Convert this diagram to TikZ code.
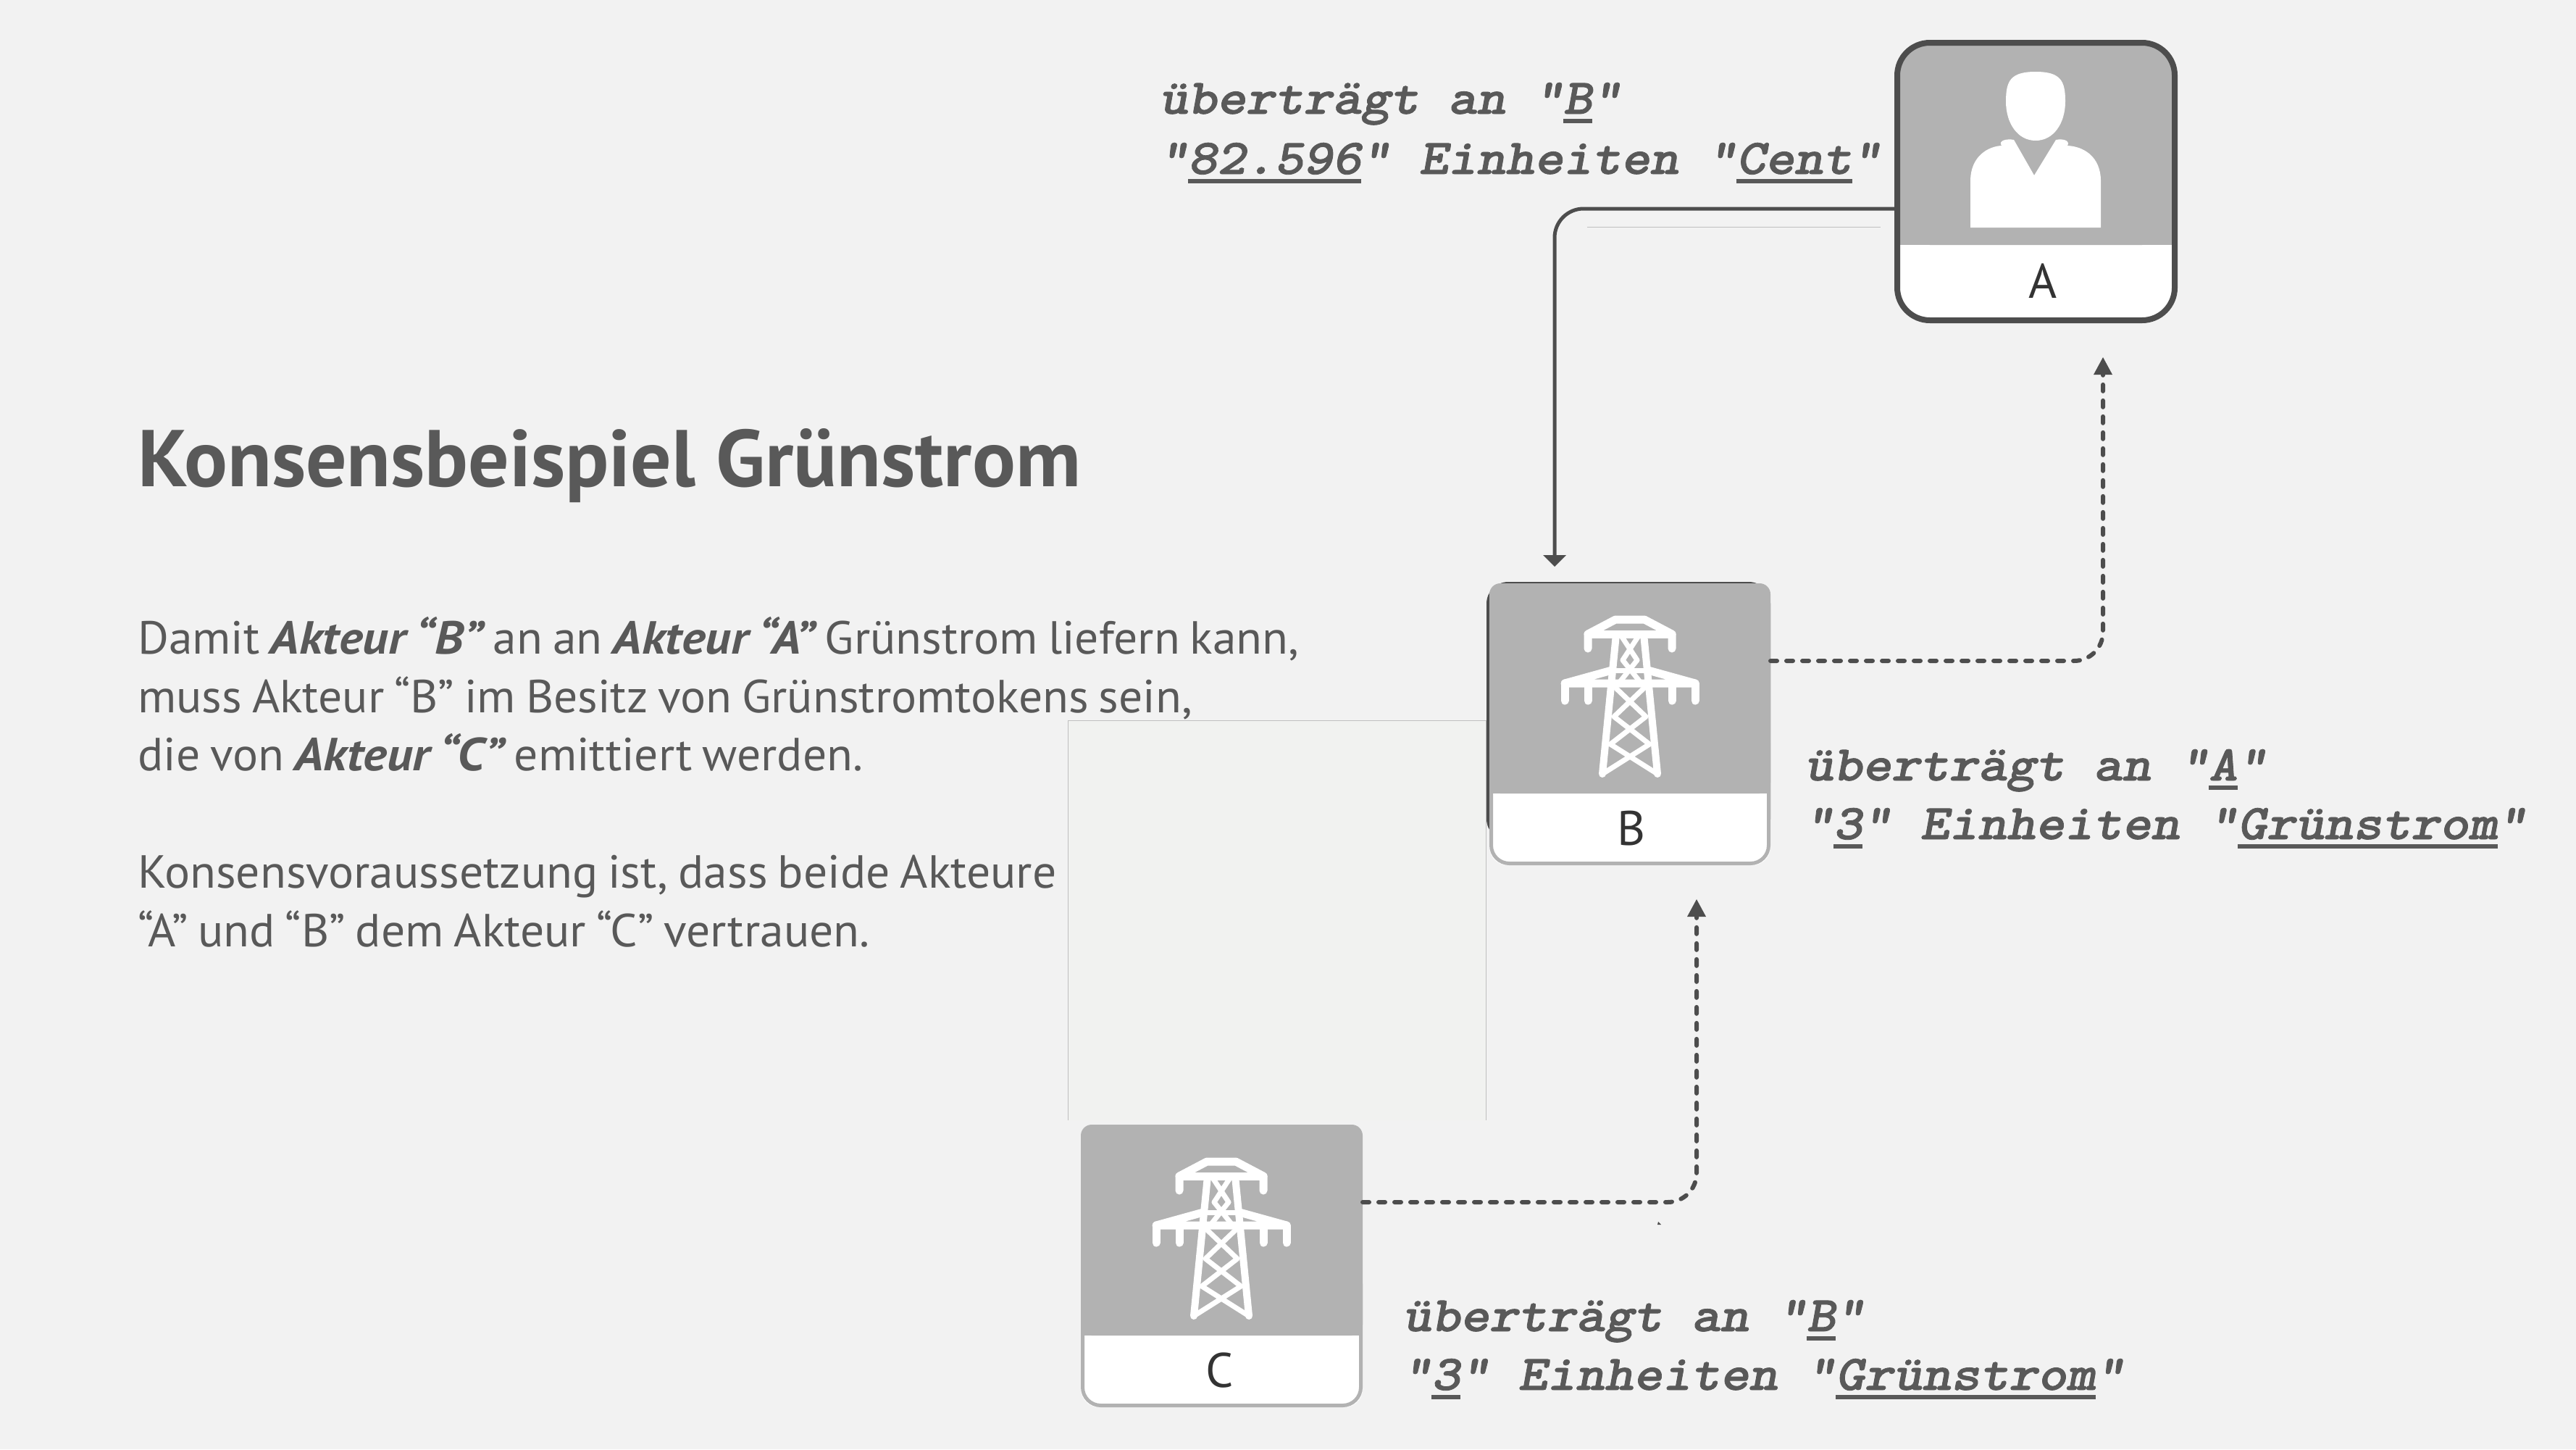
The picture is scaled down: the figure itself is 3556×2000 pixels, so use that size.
\documentclass[tikz,border=0pt]{standalone}
\usepackage{fontspec}
\setmainfont{PT Sans}
\newfontfamily\titlef{PT Sans}[FakeStretch=1.006]
\newfontfamily\bodyf{PT Sans}[FakeStretch=1.025,WordSpace=0.8]
\newfontfamily\bif{PT Sans}[FakeStretch=1.09,WordSpace=0.8]
\newfontfamily\monof{lmmonolt10-boldoblique}[Extension=.otf,FakeStretch=1.1,FakeBold=1.2]
\newcommand\ulx[1]{\setbox0\hbox{#1}\rlap{\vrule width\wd0 height -7pt depth 13pt}\box0}
\newcommand\bix[1]{{\bif\bfseries\itshape #1}}
\definecolor{bg}{HTML}{F2F2F2}
\definecolor{ink}{HTML}{595959}
\definecolor{dark}{HTML}{4D4D4D}
\definecolor{tile}{HTML}{B2B2B2}
\tikzset{
 lab/.style={inner sep=0,anchor=base west,text=ink,font=\monof\fontsize{69}{79}\selectfont},
 body/.style={inner sep=0,anchor=base west,text=ink,font=\bodyf\fontsize{64}{70}\selectfont},
 tag/.style={inner sep=0,anchor=base,text=black!80,font=\fontsize{67}{70}\selectfont},
 tower/.style={white,line width=11pt,line cap=round,line join=round},
 brace/.style={white,line width=7pt,line cap=round,line join=round},
 solidc/.style={dark,line width=5pt,rounded corners=40pt},
 dashc/.style={dark,line width=6pt,line cap=round,dash pattern=on 9pt off 13pt,rounded corners=40pt},
}
\newcommand\towerpic[2]{%
\begin{scope}[shift={(#1,#2)}]
 \draw[tower] (-58,46) -- (-58,26) -- (-20,6) -- (20,6) -- (58,26) -- (58,46);
 \draw[tower] (-58,26) -- (58,26);
 \draw[tower] (-25,76) -- (-90,94) -- (90,94) -- (25,76);
 \draw[tower] (-90,94) -- (-90,118) (-58,94) -- (-58,118) (58,94) -- (58,118) (90,94) -- (90,118);
 \draw[tower,line width=10pt] (-19,26) -- (-38,219) (19,26) -- (38,219);
 \draw[brace] (-11,30) -- (10,62) -- (-14,92) (11,30) -- (-10,62) -- (14,92);
 \draw[brace] (-22,76) -- (22,76);
 \draw[brace] (-20,100) -- (22,140) -- (-27,178) -- (38,219);
 \draw[brace] (20,100) -- (-22,140) -- (27,178) -- (-38,219);
\end{scope}}
\begin{document}
\begin{tikzpicture}[x=1pt,y=-1pt]
\useasboundingbox (0,0) rectangle (3556,2000);
\fill[bg] (0,0) rectangle (3556,2000);
% faint rectangle
\draw[black!25,fill={rgb,255:red,241;green,242;blue,240},line width=1pt] (1474,1546) -- (1474,994) -- (2051,994) -- (2051,1546);
\draw[black!25,line width=1pt] (2191,313) -- (2596,313);
% box A
\coordinate (aw) at (2615,288);
\coordinate (ae) at (2903,493);
\fill[white,rounded corners=45pt] (2619,250) -- (2619,442) -- (3002,442) -- (3002,250) -- cycle;
\fill[tile,rounded corners=45pt] (2619,338) -- (2619,59) -- (3002,59) -- (3002,338) -- cycle;
\fill[tile] (2619,300) rectangle (3002,338);
\draw[dark,line width=8pt,rounded corners=45pt] (2619,59) rectangle (3002,442);
% person
\fill[white] (2810,99) .. controls (2775,99) and (2769,112) .. (2769,140) .. controls (2769,170) and (2785,194) .. (2810,194) .. controls (2835,194) and (2851,170) .. (2851,140) .. controls (2851,112) and (2845,99) .. (2810,99) -- cycle;
\fill[white] (2720,314) -- (2720,250) .. controls (2720,215) and (2745,202) .. (2763,201) .. controls (2758,194) and (2770,191) .. (2780,193) -- (2808,242) -- (2838,193) .. controls (2848,191) and (2858,194) .. (2854,201) .. controls (2875,202) and (2900,215) .. (2900,250) -- (2900,314) -- cycle;
\node[tag] (at) at (2820,411) {A};
% box B
\coordinate (bw) at (2146,782);
\coordinate (be) at (2444,912);
\coordinate (bs) at (2342,1241);
\fill[dark,rounded corners=30pt] (2052,803) rectangle (2444,1160);
\fill[white,rounded corners=25pt] (2056,1000) rectangle (2444,1194);
\draw[tile,line width=5pt,rounded corners=25pt] (2058.5,1000) rectangle (2441.5,1191.5);
\fill[tile,rounded corners=15pt] (2056,1095) -- (2056,805) -- (2444,805) -- (2444,1095) -- cycle;
\fill[tile] (2056,1060) rectangle (2444,1095);
\towerpic{2250}{849}
\node[tag] (bt) at (2252,1166) {B};
% box C
\coordinate (ce) at (1881,1659);
\fill[white,rounded corners=25pt] (1492,1747) rectangle (1881,1942);
\draw[tile,line width=5pt,rounded corners=25pt] (1494.5,1747) rectangle (1878.5,1939.5);
\fill[tile,rounded corners=15pt] (1492,1843) -- (1492,1552) -- (1881,1552) -- (1881,1843) -- cycle;
\fill[tile] (1492,1808) rectangle (1881,1843);
\towerpic{1686}{1597}
\node[tag] (ct) at (1684,1914) {C};
% connectors
\fill[dark] (bw) -- ++(-16,-16) -- ++(32,0) -- cycle;
\draw[solidc] (aw) -| ([yshift=14pt]bw);
\fill[dark] (ae) -- ++(-13,24) -- ++(26,0) -- cycle;
\draw[dashc] (be) -| ([yshift=-24pt]ae);
\fill[dark] (bs) -- ++(-13,24) -- ++(26,0) -- cycle;
\draw[dashc] (ce) -| ([yshift=-24pt]bs);
\fill[dark] (2289,1686) -- (2293,1690) -- (2288,1690) -- cycle;
% labels
\node[lab] (l1) at (1600,157) {überträgt an “\ulx{B}”};
\node[lab] (l2) at (1600,240) {“\ulx{82.596}” Einheiten “\ulx{Cent}”};
\node[lab] (l3) at (2491,1077) {überträgt an “\ulx{A}”};
\node[lab] (l4) at (2491,1158) {“\ulx{3}” Einheiten “\ulx{Grünstrom}”};
\node[lab] (l5) at (1936,1837) {überträgt an “\ulx{B}”};
\node[lab] (l6) at (1936,1918) {“\ulx{3}” Einheiten “\ulx{Grünstrom}”};
% left text
\node[inner sep=0,anchor=base west,text=ink,font=\titlef\bfseries\fontsize{111}{120}\selectfont] (title) at (190,671) {Konsensbeispiel Grünstrom};
\node[body] (t1) at (190,902) {Damit \bix{Akteur “B”} an an \bix{Akteur “A”} Grünstrom liefern kann,};
\node[body] (t2) at (190,983) {muss Akteur “B” im Besitz von Grünstromtokens sein,};
\node[body] (t3) at (190,1063) {die von \bix{Akteur “C”} emittiert werden.};
\node[body] (t4) at (190,1225) {Konsensvoraussetzung ist, dass beide Akteure};
\node[body] (t5) at (190,1306) {“A” und “B” dem Akteur “C” vertrauen.};
\end{tikzpicture}
\end{document}
